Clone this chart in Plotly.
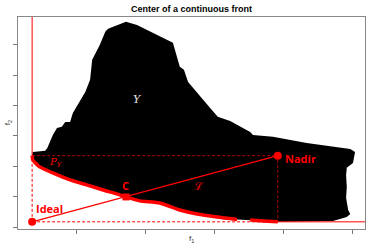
import plotly.graph_objects as go

# Region Y (upper boundary, traced clockwise from the front's start)
region_x = [0.35, 0.36, 0.54, 0.57, 0.65, 0.71, 0.78, 0.83, 0.90, 0.94, 1.12, 1.19, 1.22,
            1.33, 1.41, 1.45, 1.71, 1.87, 2.39, 2.49, 2.55, 2.61, 2.93, 3.04, 3.22, 3.51,
            3.55, 3.84, 4.33, 4.96, 5.03, 5.00, 4.91, 4.90, 4.91, 4.90, 4.93, 4.96, 4.91,
            4.77, 4.71, 3.91]
region_y = [2.35, 2.47, 2.51, 2.60, 3.03, 3.26, 3.30, 3.46, 3.46, 3.76, 4.45, 4.85, 5.51,
            6.00, 6.43, 6.53, 6.76, 6.66, 6.07, 5.28, 5.18, 4.78, 3.92, 3.63, 3.49, 3.13,
            3.03, 2.97, 2.77, 2.57, 2.47, 2.11, 1.95, 1.71, 1.32, 0.96, 0.56, 0.43, 0.33,
            0.23, 0.20, 0.17]

# Pareto front (two pieces)
front1_x = [0.35, 0.36, 0.46, 0.65, 0.90, 1.15, 1.38, 1.62, 1.71, 1.91, 2.20, 2.49, 2.74, 3.03, 3.32]
front1_y = [2.35, 2.21, 1.98, 1.78, 1.55, 1.38, 1.22, 1.06, 0.99, 0.86, 0.79, 0.56, 0.43, 0.33, 0.25]
front2_x = [3.51, 3.70, 3.91]
front2_y = [0.23, 0.20, 0.17]

ideal = (0.35, 0.17)
nadir = (3.91, 2.35)
center = (1.71, 0.99)

x_ticks = [1, 2, 3, 4, 5]
y_ticks = [0, 1, 2, 3, 4, 5, 6]
x_range = [0.145, 5.174]
y_range = [-0.066, 6.92]

RED = "#ff0000"
DARKRED = "#b00000"

fig = go.Figure()

# region polygon (upper boundary + front back to start)
poly_x = region_x + front2_x[::-1] + front1_x[::-1]
poly_y = region_y + front2_y[::-1] + front1_y[::-1]
fig.add_trace(go.Scatter(x=poly_x, y=poly_y, fill="toself", fillcolor="black",
                         line=dict(width=0, color="black"), mode="lines", hoverinfo="skip"))

# red solid vertical above front start, dashed below
fig.add_trace(go.Scatter(x=[ideal[0], ideal[0]], y=[nadir[1], 8], mode="lines",
                         line=dict(color=RED, width=1)))
fig.add_trace(go.Scatter(x=[ideal[0], ideal[0]], y=[ideal[1], nadir[1]], mode="lines",
                         line=dict(color=RED, width=1, dash="3px,2px")))
# red horizontal: dashed to nadir x, solid beyond
fig.add_trace(go.Scatter(x=[ideal[0], nadir[0]], y=[ideal[1], ideal[1]], mode="lines",
                         line=dict(color=RED, width=1, dash="3px,2px")))
fig.add_trace(go.Scatter(x=[nadir[0], 6], y=[ideal[1], ideal[1]], mode="lines",
                         line=dict(color=RED, width=1)))
# dark red dashed lines to nadir
fig.add_trace(go.Scatter(x=[ideal[0], nadir[0], nadir[0]], y=[nadir[1], nadir[1], ideal[1]],
                         mode="lines", line=dict(color=DARKRED, width=1, dash="3px,2px")))

# front
for fx, fy in [(front1_x, front1_y), (front2_x, front2_y)]:
    fig.add_trace(go.Scatter(x=fx, y=fy, mode="lines",
                             line=dict(color=RED, width=3.5, shape="spline", smoothing=0.6)))

# ideal-nadir line
fig.add_trace(go.Scatter(x=[ideal[0], nadir[0]], y=[ideal[1], nadir[1]], mode="lines",
                         line=dict(color=RED, width=1.3)))
# points
fig.add_trace(go.Scatter(x=[ideal[0], nadir[0]], y=[ideal[1], nadir[1]], mode="markers",
                         marker=dict(color=RED, size=8, symbol="circle", line=dict(width=0)),
                         cliponaxis=False))
fig.add_trace(go.Scatter(x=[center[0]], y=[center[1]], mode="markers",
                         marker=dict(color=RED, size=7, symbol="square", line=dict(width=0))))

lab_font = dict(family="Open Sans, Liberation Sans, sans-serif", size=11, color=RED)
annotations = [
    dict(x=ideal[0] + 0.02, y=ideal[1] + 0.45, text="<b>Ideal</b>", xanchor="left",
         yanchor="middle", font=lab_font),
    dict(x=nadir[0] + 0.08, y=nadir[1] - 0.1, text="<b>Nadir</b>", xanchor="left",
         yanchor="middle", font=lab_font),
    dict(x=center[0], y=center[1] + 0.38, text="<b>C</b>", xanchor="center",
         yanchor="middle", font=lab_font),
    dict(x=1.87, y=4.2, text="<i>Y</i>", xanchor="center", yanchor="middle",
         font=dict(family="DejaVu Serif, serif", size=11, color="#e8e8e8")),
    dict(x=0.70, y=2.12, text="<i>P</i><sub><i>Y</i></sub>", xanchor="center", yanchor="middle",
         font=dict(family="DejaVu Serif, serif", size=10, color=RED)),
    dict(x=2.76, y=1.32, text="ℒ", xanchor="center", yanchor="middle",
         font=dict(family="DejaVu Serif, serif", size=11, color=RED)),
]
for a in annotations:
    a.update(xref="x", yref="y", showarrow=False)

fig.update_layout(
    width=366, height=244,
    margin=dict(l=18, r=1, t=17, b=15),
    paper_bgcolor="white", plot_bgcolor="white",
    showlegend=False,
    title=dict(text="<b>Center of a continuous front</b>", x=0.523, xanchor="center",
               y=0.965, yanchor="middle",
               font=dict(family="Liberation Sans, Arial, sans-serif", size=9, color="black")),
    annotations=annotations + [
        dict(x=0.5, y=-0.012, xref="paper", yref="paper", yanchor="top", showarrow=False,
             text="f<sub>1</sub>", font=dict(family="Liberation Sans, Arial", size=8, color="#333")),
        dict(x=-0.028, y=0.5, xref="paper", yref="paper", xanchor="center", yanchor="middle",
             showarrow=False, textangle=-90, text="f<sub>2</sub>",
             font=dict(family="Liberation Sans, Arial", size=8, color="#333")),
    ],
)
fig.update_xaxes(range=x_range, tickvals=x_ticks, showticklabels=False, ticks="outside",
                 ticklen=4, tickcolor="#777", showline=True, linecolor="#888", linewidth=1,
                 mirror=True, showgrid=False, zeroline=False)
fig.update_yaxes(range=y_range, tickvals=y_ticks, showticklabels=False, ticks="outside",
                 ticklen=4, tickcolor="#777", showline=True, linecolor="#888", linewidth=1,
                 mirror=True, showgrid=False, zeroline=False)

fig.write_html("out.html", config={"displayModeBar": False},
               post_script="document.body.style.margin='0';")
